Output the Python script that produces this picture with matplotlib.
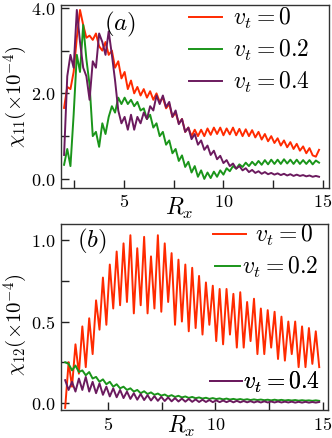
import numpy as np
import matplotlib
matplotlib.use("Agg")
import matplotlib.pyplot as plt
from matplotlib.ticker import MultipleLocator, FormatStrFormatter
from matplotlib.lines import Line2D

plt.rcParams['mathtext.fontset'] = 'cm'
plt.rcParams['font.family'] = ['DejaVu Serif']

# ---------------- data ----------------
rx_a_start, rx_a_step = 2.0, 0.16
chi11_v0 = [1.66, 2.15, 2.10, 2.50, 3.30, 3.95, 3.60, 3.30, 3.35, 3.25,
            3.40, 3.10, 3.00, 3.20, 2.90, 3.00, 2.60, 2.75, 2.35, 2.50,
            2.10, 2.30, 2.00, 2.15, 1.95, 2.10, 1.90, 2.05, 1.85, 2.00,
            1.80, 1.90, 1.65, 1.75, 1.45, 1.55, 1.30, 1.40, 1.10, 1.20,
            1.00, 1.15, 1.00, 1.15, 1.00, 1.18, 1.03, 1.20, 1.05, 1.20,
            1.02, 1.18, 1.04, 1.20, 1.02, 1.17, 1.00, 1.16, 1.00, 1.14,
            0.97, 1.10, 0.92, 1.05, 0.88, 1.00, 0.84, 0.95, 0.78, 0.90,
            0.74, 0.86, 0.70, 0.82, 0.66, 0.76, 0.60, 0.72, 0.55, 0.52,
            0.68]
chi11_v02 = [0.33, 0.70, 0.30, 1.50, 2.90, 2.50, 3.60, 2.80, 2.20, 1.00,
             1.10, 0.75, 1.30, 1.05, 1.45, 1.70, 1.55, 1.90, 1.75, 1.90,
             1.75, 1.85, 1.70, 1.80, 1.60, 1.65, 1.40, 1.50, 1.20, 1.30,
             1.00, 1.10, 0.80, 0.90, 0.60, 0.70, 0.42, 0.55, 0.28, 0.40,
             0.15, 0.30, 0.05, 0.20, 0.00, 0.15, 0.02, 0.17, 0.05, 0.20,
             0.10, 0.25, 0.18, 0.30, 0.24, 0.34, 0.28, 0.38, 0.30, 0.40,
             0.32, 0.42, 0.33, 0.44, 0.34, 0.45, 0.35, 0.45, 0.35, 0.46,
             0.36, 0.45, 0.35, 0.45, 0.35, 0.44, 0.35, 0.44, 0.34, 0.43,
             0.38]
chi11_v04 = [0.56, 2.40, 2.90, 2.60, 3.95, 3.20, 2.60, 2.40, 1.85, 2.75,
             2.60, 3.40, 3.20, 2.90, 3.45, 2.90, 2.30, 1.60, 1.30, 1.45,
             1.15, 1.50, 1.15, 1.45, 1.30, 1.55, 1.40, 1.70, 1.60, 1.95,
             1.75, 1.95, 1.68, 1.80, 1.45, 1.60, 1.28, 1.40, 1.10, 1.20,
             0.93, 1.05, 0.80, 0.90, 0.68, 0.78, 0.56, 0.66, 0.46, 0.54,
             0.37, 0.44, 0.30, 0.36, 0.24, 0.30, 0.20, 0.25, 0.16, 0.21,
             0.14, 0.18, 0.12, 0.16, 0.11, 0.14, 0.10, 0.13, 0.09, 0.12,
             0.08, 0.11, 0.07, 0.10, 0.07, 0.09, 0.06, 0.08, 0.05, 0.07,
             0.05]

rx_b_start, rx_b_step = 3.0, 0.16
chi12_v0 = [-0.03, 0.25, 0.10, 0.36, 0.18, 0.47, 0.22, 0.52, 0.30, 0.63,
            0.45, 0.77, 0.48, 0.85, 0.58, 0.93, 0.60, 0.98, 0.62, 1.03,
            0.55, 0.95, 0.60, 1.02, 0.55, 0.90, 0.58, 1.03, 0.56, 0.98,
            0.62, 0.92, 0.48, 0.88, 0.50, 0.85, 0.44, 0.83, 0.46, 0.78,
            0.42, 0.74, 0.48, 0.72, 0.38, 0.70, 0.36, 0.70, 0.42, 0.67,
            0.34, 0.68, 0.34, 0.62, 0.38, 0.64, 0.30, 0.58, 0.30, 0.57,
            0.34, 0.56, 0.27, 0.53, 0.26, 0.50, 0.30, 0.50, 0.22, 0.47,
            0.22, 0.46, 0.24, 0.44, 0.22]
chi12_v02 = [0.25, 0.24, 0.20, 0.23, 0.19, 0.20, 0.17, 0.19, 0.15, 0.16,
             0.13, 0.145, 0.115, 0.13, 0.10, 0.115, 0.09, 0.10, 0.08, 0.09,
             0.07, 0.08, 0.06, 0.072, 0.055, 0.065, 0.05, 0.058, 0.045, 0.052,
             0.04, 0.048, 0.037, 0.044, 0.034, 0.040, 0.031, 0.037, 0.029, 0.034,
             0.027, 0.032, 0.025, 0.030, 0.024, 0.028, 0.022, 0.027, 0.021, 0.025,
             0.020, 0.024, 0.019, 0.023, 0.018, 0.022, 0.018, 0.021, 0.017, 0.020,
             0.016, 0.020, 0.016, 0.019, 0.015, 0.018, 0.015, 0.018, 0.014, 0.017,
             0.014, 0.016, 0.013, 0.016, 0.013]
chi12_v04 = [0.14, 0.08, 0.13, 0.07, 0.15, 0.08, 0.16, 0.07, 0.13, 0.06,
             0.12, 0.05, 0.10, 0.04, 0.09, 0.035, 0.08, 0.03, 0.07, 0.025,
             0.06, 0.02, 0.055, 0.018, 0.048, 0.015, 0.042, 0.013, 0.038, 0.012,
             0.034, 0.010, 0.030, 0.009, 0.027, 0.008, 0.025, 0.007, 0.022, 0.006,
             0.020, 0.006, 0.018, 0.005, 0.016, 0.005, 0.015, 0.005, 0.014, 0.004,
             0.013, 0.004, 0.012, 0.004, 0.011, 0.003, 0.010, 0.003, 0.010, 0.003,
             0.009, 0.003, 0.009, 0.003, 0.008, 0.003, 0.008, 0.002, 0.007, 0.002,
             0.007, 0.002, 0.006, 0.002, 0.006]

labels = [r'$v_t = 0$', r'$v_t = 0.2$', r'$v_t = 0.4$']
colors = ['#ff2a00', '#1a951a', '#6b1a5e']

rx_a = rx_a_start + rx_a_step * np.arange(len(chi11_v0))
rx_b = rx_b_start + rx_b_step * np.arange(len(chi12_v0))

# ---------------- figure ----------------
fig = plt.figure(figsize=(3.32, 4.38), dpi=100)
ax1 = fig.add_axes([0.184, 0.571, 0.807, 0.418])
ax2 = fig.add_axes([0.184, 0.064, 0.804, 0.425])

lw = 1.4
l1 = [ax1.plot(rx_a, s, color=c, lw=lw)[0]
      for s, c in zip([chi11_v0, chi11_v02, chi11_v04], colors)]
l2 = [ax2.plot(rx_b, s, color=c, lw=lw)[0]
      for s, c in zip([chi12_v0, chi12_v02, chi12_v04], colors)]

ax1.set_xlim(1.85, 15.3)
ax1.set_ylim(-0.21, 4.07)
ax2.set_xlim(2.81, 15.25)
ax2.set_ylim(-0.043, 1.1)

for ax in (ax1, ax2):
    ax.xaxis.set_major_locator(MultipleLocator(5))
    ax.xaxis.set_minor_locator(MultipleLocator(2.5))
    ax.xaxis.set_major_formatter(FormatStrFormatter(r'$%d$'))
    ax.tick_params(which='both', direction='in', length=6, width=1,
                   top=False, right=False, labelsize=13, pad=4, color='#222222')
    for sp in ax.spines.values():
        sp.set_color('#333333')
        sp.set_linewidth(1.0)

ax1.yaxis.set_major_locator(MultipleLocator(2.0))
ax1.yaxis.set_minor_locator(MultipleLocator(1.0))
ax1.yaxis.set_major_formatter(FormatStrFormatter(r'$%.1f$'))
ax2.yaxis.set_major_locator(MultipleLocator(0.5))
ax2.yaxis.set_minor_locator(MultipleLocator(0.25))
ax2.yaxis.set_major_formatter(FormatStrFormatter(r'$%.1f$'))

ax1.set_ylabel(r'$\chi_{11}(\times 10^{-4})$', fontsize=15)
ax2.set_ylabel(r'$\chi_{12}(\times 10^{-4})$', fontsize=15)
ax1.yaxis.set_label_coords(-0.115, 0.5)
ax2.yaxis.set_label_coords(-0.115, 0.46)
ax1.set_xlabel(r'$R_x$', fontsize=17)
ax2.set_xlabel(r'$R_x$', fontsize=17)
ax1.xaxis.set_label_coords(0.44, -0.045)
ax2.xaxis.set_label_coords(0.45, -0.02)

ax1.text(0.22, 0.895, r'$(a)$', transform=ax1.transAxes, fontsize=18,
         ha='center', va='center')
ax2.text(0.116, 0.905, r'$(b)$', transform=ax2.transAxes, fontsize=18,
         ha='center', va='center')

ax1.legend(l1, labels, loc='center left', bbox_to_anchor=(0.478, 0.75),
           frameon=False, fontsize=17, handlelength=1.4, handletextpad=0.45,
           labelspacing=0.3, borderpad=0, borderaxespad=0)

specs = [(0, 0.569, 0.935, 1.42, 0.34),
         (1, 0.577, 0.763, 1.05, 0.08),
         (2, 0.558, 0.145, 1.35, 0.04)]
for i, x0, y0, hl, hp in specs:
    h = Line2D([], [], color=colors[i], lw=lw)
    lg = ax2.legend([h], [labels[i]], loc='center left', bbox_to_anchor=(x0, y0),
                    frameon=False, fontsize=17, handlelength=hl, handletextpad=hp,
                    borderpad=0, borderaxespad=0)
    ax2.add_artist(lg)

fig.savefig('out.png', dpi=100)
